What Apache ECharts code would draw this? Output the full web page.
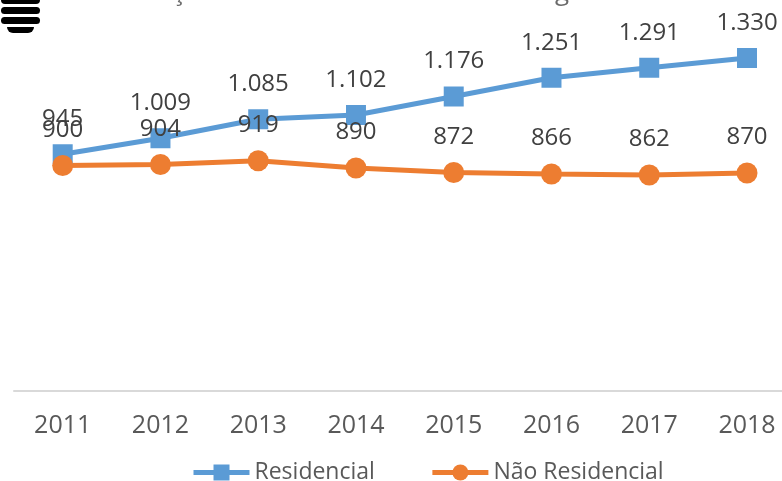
<!DOCTYPE html>
<html>
<head>
<meta charset="utf-8">
<script src="https://cdn.jsdelivr.net/npm/echarts@6/dist/echarts.min.js"></script>
<style>
  html, body { margin: 0; padding: 0; background: #ffffff; }
  #chart { width: 782px; height: 481px; }
</style>
</head>
<body>
<div id="chart"></div>
<script>
// Consumo de energia elétrica, 2011–2018
const years = ['2011', '2012', '2013', '2014', '2015', '2016', '2017', '2018'];
const residencial = [945, 1009, 1085, 1102, 1176, 1251, 1291, 1330];
const naoResidencial = [900, 904, 919, 890, 872, 866, 862, 870];
const seriesNames = ['Residencial', 'Não Residencial'];
const titleText = 'Evolução do consumo médio de energia elétrica 2011 - 2018';

const FONT = '"Open Sans", "Noto Sans", sans-serif';

// thousands separator as a dot (pt-BR style)
function fmt(v) {
  return String(v).replace(/\B(?=(\d{3})+(?!\d))/g, '.');
}

const chart = echarts.init(document.getElementById('chart'), null, { renderer: 'canvas' });

const labelStyle = {
  show: true,
  position: 'top',
  distance: 13,
  color: '#404040',
  fontFamily: FONT,
  fontSize: 24,
  formatter: p => fmt(p.value)
};

chart.setOption({
  animation: false,
  backgroundColor: '#ffffff',
  graphic: [
    // stacked bars icon in the top-left corner
    { type: 'rect', shape: { x: 1, y: -4, width: 39, height: 8, r: 4 }, style: { fill: '#000' } },
    { type: 'rect', shape: { x: 1, y: 7, width: 39, height: 7, r: 3.5 }, style: { fill: '#000' } },
    { type: 'rect', shape: { x: 1, y: 17, width: 39, height: 7, r: 3.5 }, style: { fill: '#000' } },
    { type: 'rect', shape: { x: 7, y: 27, width: 27, height: 6, r: [0, 0, 6, 6] }, style: { fill: '#000' } },
    // chart title (runs off the top edge)
    {
      type: 'text',
      x: 470, y: 6,
      style: {
        text: titleText,
        font: '26px ' + FONT,
        fill: '#6a6a6a',
        textAlign: 'center',
        textVerticalAlign: 'bottom'
      }
    }
  ],
  grid: [
    // plotting area: first and last year sit on the grid edges
    { left: 62.7, right: 35, top: 0, height: 390.5, containLabel: false },
    // full-width baseline under the plot
    { left: 14, right: 0, top: 0, height: 390.5, containLabel: false }
  ],
  legend: {
    data: seriesNames,
    top: 456,
    left: 186,
    itemWidth: 56,
    itemHeight: 20,
    itemGap: 55,
    lineStyle: { width: 5 },
    textStyle: { color: '#595959', fontFamily: FONT, fontSize: 23 }
  },
  xAxis: [
    {
      type: 'category',
      gridIndex: 0,
      data: years,
      boundaryGap: false,
      axisLine: { show: false },
      axisTick: { show: false },
      axisLabel: { color: '#595959', fontFamily: FONT, fontSize: 25, margin: 23 }
    },
    {
      type: 'category',
      gridIndex: 1,
      data: years,
      axisLine: { show: true, lineStyle: { color: '#D9D9D9', width: 2 } },
      axisTick: { show: false },
      axisLabel: { show: false }
    }
  ],
  yAxis: [
    { type: 'value', gridIndex: 0, min: 0, max: 1562, show: false, splitLine: { show: false } },
    { type: 'value', gridIndex: 1, min: 0, max: 1562, show: false, splitLine: { show: false } }
  ],
  series: [
    {
      name: seriesNames[0],
      type: 'line',
      data: residencial,
      symbol: 'rect',
      symbolSize: 20,
      itemStyle: { color: '#5B9BD5' },
      lineStyle: { color: '#5B9BD5', width: 5 },
      label: labelStyle
    },
    {
      name: seriesNames[1],
      type: 'line',
      data: naoResidencial,
      symbol: 'circle',
      symbolSize: 21,
      itemStyle: { color: '#ED7D31' },
      lineStyle: { color: '#ED7D31', width: 5 },
      label: labelStyle
    }
  ]
});
</script>
</body>
</html>
